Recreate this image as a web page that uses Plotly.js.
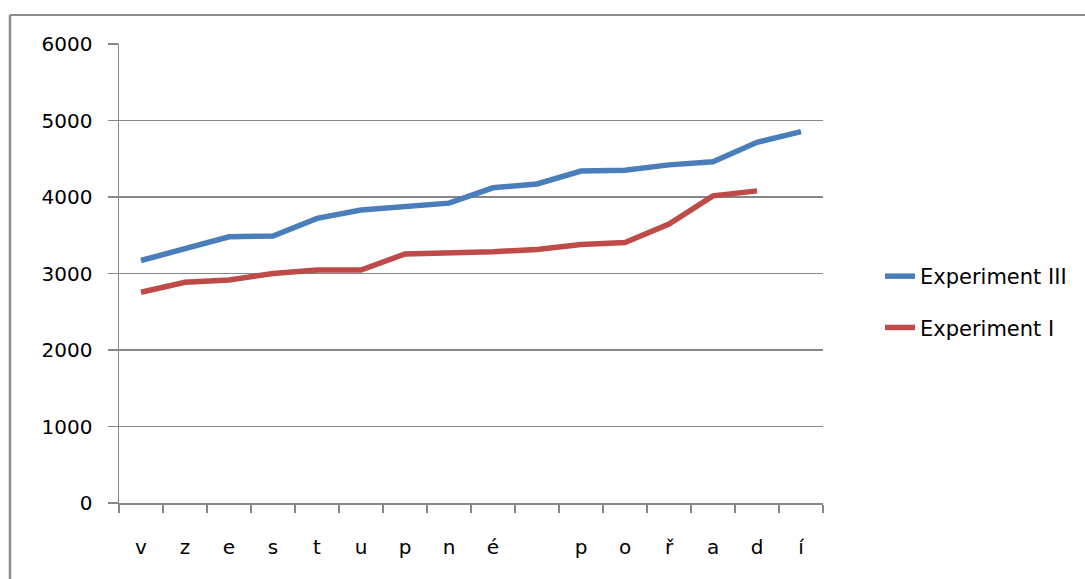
<!DOCTYPE html>
<html>
<head>
<meta charset="utf-8">
<script src="https://cdn.plot.ly/plotly-3.0.1.min.js"></script>
<style>
html,body{margin:0;padding:0;background:#fff;}
#chart{width:1085px;height:579px;}
</style>
</head>
<body>
<div id="chart"></div>
<script>
const categories = ['v','z','e','s','t','u','p','n','é','','p','o','ř','a','d','í'];
const experimentIII = [3170,3330,3480,3490,3720,3830,3870,3920,4120,4170,4340,4350,4420,4460,4715,4855];
const experimentI = [2755,2885,2915,3000,3045,3045,3255,3265,3285,3315,3380,3405,3645,4015,4080];
const yTicks = [0,1000,2000,3000,4000,5000,6000];

const xIdx = categories.map((c,i)=>i);
const font = {family:'DejaVu Sans, sans-serif', size:20, color:'#000'};
const legendFont = {family:'DejaVu Sans, sans-serif', size:21, color:'#000'};
const gridColor = '#868686';

const traces = [
  {x: xIdx.slice(0, experimentIII.length), y: experimentIII, type:'scatter', mode:'lines',
   name:'Experiment III', legendgroup:'a', line:{color:'#4A7EBB', width:5.5}},
  {x: xIdx.slice(0, experimentI.length), y: experimentI, type:'scatter', mode:'lines',
   name:'Experiment I', legendgroup:'b', line:{color:'#BE4B48', width:5.5}}
];

const W0 = 119, W1 = 823, H0 = 44, H1 = 503;
const px = v => (v - W0)/(W1 - W0);
const py = v => (H1 - v)/(H1 - H0);

const layout = {
  width:1085, height:579,
  margin:{l:119, r:1085-823, t:44, b:579-503, pad:0},
  paper_bgcolor:'#fff', plot_bgcolor:'#fff',
  font: font,
  showlegend:true,
  legend:{x:px(880), xanchor:'left', y:py(302), yanchor:'middle',
          font:legendFont, tracegroupgap:21, bgcolor:'rgba(0,0,0,0)'},
  xaxis:{
    type:'linear', range:[-0.5, categories.length-0.5],
    tickvals:xIdx, ticktext:categories, ticks:'', showgrid:false,
    zeroline:false, showline:true, linecolor:gridColor, linewidth:1.5,
    ticklabelstandoff:25, tickfont:font, fixedrange:true,
    minor:{tick0:-0.5, dtick:1, ticks:'outside', ticklen:8, tickcolor:gridColor, tickwidth:1.5, showgrid:false}
  },
  yaxis:{
    range:[0,6000], tickvals:yTicks, ticktext:yTicks.map(String),
    ticks:'outside', ticklen:10, tickcolor:gridColor, tickwidth:1.5,
    showgrid:true, gridcolor:gridColor, gridwidth:1.5,
    zeroline:false, showline:true, linecolor:gridColor, linewidth:1.5,
    ticklabelstandoff:11, tickfont:font, fixedrange:true
  },
  shapes:[
    {type:'line', xref:'paper', yref:'paper', x0:px(10), x1:px(1100), y0:py(15), y1:py(15),
     line:{color:'#8c8c8c', width:2}},
    {type:'line', xref:'paper', yref:'paper', x0:px(10), x1:px(10), y0:py(15), y1:py(600),
     line:{color:'#8c8c8c', width:2.5}}
  ]
};

Plotly.newPlot('chart', traces, layout, {displayModeBar:false, staticPlot:true});
</script>
</body>
</html>
